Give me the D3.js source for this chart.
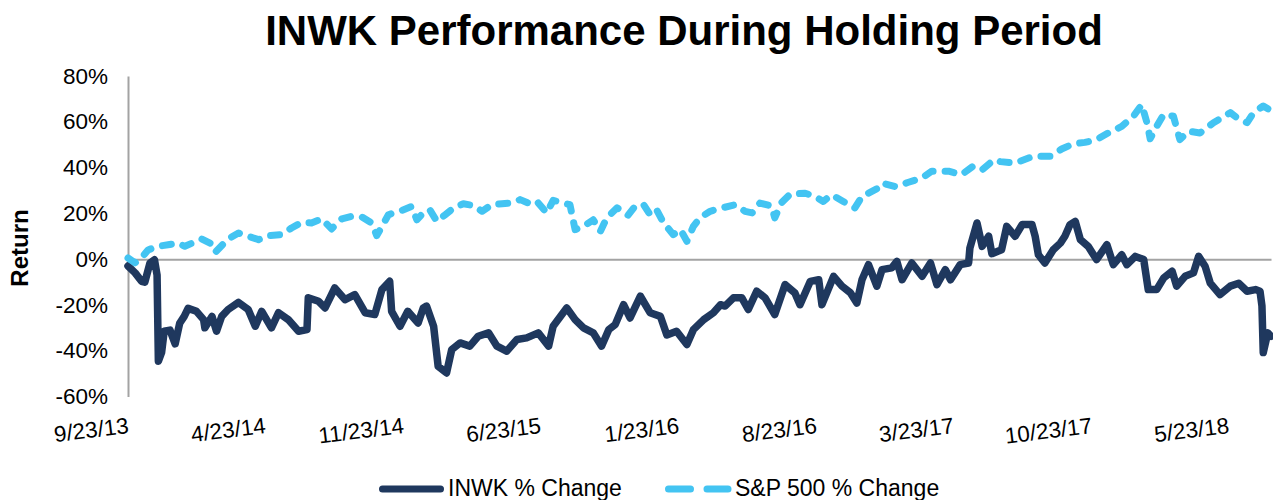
<!DOCTYPE html>
<html>
<head>
<meta charset="utf-8">
<script src="https://cdn.jsdelivr.net/npm/d3@7"></script>
<style>
  html, body { margin: 0; padding: 0; background: #ffffff; }
  svg { display: block; font-family: "Liberation Sans", Arial, sans-serif; }
</style>
</head>
<body>
<svg id="chart" width="1273" height="500"></svg>
<script>
// ---------- data ----------
const chartTitle = "INWK Performance During Holding Period";
const yAxisTitle = "Return";
const seriesNames = ["INWK % Change", "S&P 500 % Change"];

const yTickValues = [-60, -40, -20, 0, 20, 40, 60, 80];
const xTickLabels = ["2013-09-23", "2014-04-23", "2014-11-23", "2015-06-23", "2016-01-23",
                     "2016-08-23", "2017-03-23", "2017-10-23", "2018-05-23"];
const xDomain = ["2013-09-23", "2018-07-28"];

const inwkDates = [
  "2013-09-23","2013-10-04","2013-10-14","2013-10-19","2013-10-27","2013-11-03","2013-11-07","2013-11-09",
  "2013-11-14","2013-11-18","2013-11-27","2013-12-05","2013-12-12","2013-12-19","2013-12-25",
  "2014-01-07","2014-01-18","2014-01-20","2014-01-31","2014-02-07","2014-02-15","2014-02-25","2014-03-13",
  "2014-03-28","2014-04-08","2014-04-18","2014-05-03","2014-05-14","2014-05-29","2014-06-14","2014-06-27",
  "2014-06-29","2014-07-15","2014-07-25","2014-08-09","2014-08-25","2014-09-09","2014-09-25","2014-10-10",
  "2014-10-21","2014-11-02","2014-11-05","2014-11-18","2014-11-30","2014-12-16","2014-12-24","2014-12-29",
  "2015-01-09","2015-01-16","2015-01-29","2015-02-06","2015-02-19","2015-03-06","2015-03-19","2015-04-04",
  "2015-04-17","2015-05-02","2015-05-18","2015-06-02","2015-06-20","2015-07-06","2015-07-13","2015-08-03",
  "2015-08-16","2015-08-29","2015-09-13","2015-09-26","2015-10-07","2015-10-17","2015-10-30","2015-11-09",
  "2015-11-25","2015-12-10","2015-12-26",
  "2016-01-05","2016-01-20","2016-02-05","2016-02-15","2016-03-02","2016-03-17","2016-03-28","2016-04-04",
  "2016-04-17","2016-04-30","2016-05-10","2016-05-23","2016-06-05","2016-06-20","2016-07-06","2016-07-21",
  "2016-07-29","2016-08-14","2016-08-27","2016-09-01","2016-09-19","2016-10-02","2016-10-15","2016-10-25",
  "2016-11-02","2016-11-12","2016-11-25","2016-12-03","2016-12-18","2016-12-26",
  "2017-01-03","2017-01-18","2017-02-03","2017-02-16","2017-02-26","2017-03-11","2017-03-19","2017-04-03",
  "2017-04-16","2017-04-18","2017-04-29","2017-05-07","2017-05-17","2017-05-22","2017-06-06","2017-06-14",
  "2017-06-27","2017-07-08","2017-07-23","2017-07-28","2017-08-02","2017-08-12","2017-08-25","2017-09-05",
  "2017-09-12","2017-09-20","2017-09-28","2017-10-06","2017-10-18","2017-10-31","2017-11-16","2017-11-26",
  "2017-12-09","2017-12-17","2017-12-30",
  "2018-01-12","2018-01-19","2018-02-01","2018-02-12","2018-02-25","2018-03-04","2018-03-17","2018-03-30",
  "2018-04-07","2018-04-17","2018-04-25","2018-05-10","2018-05-26","2018-06-08","2018-06-21","2018-07-04",
  "2018-07-11","2018-07-14","2018-07-16","2018-07-23","2018-07-28"
];
const inwkValues = [
  -3, -6, -9.7, -10.1, -1.7, -0.3, -7, -44.6,
  -40.8, -31.5, -31, -37, -28, -25, -21.5,
  -22.8, -26.4, -30, -25, -31.5, -25, -22, -18.9,
  -22, -29.3, -22.8, -30, -23.4, -26.4, -31.5, -30.8,
  -16.9, -18.4, -21.3, -12.6, -17.7, -15.5, -23.4, -24.2,
  -13.3, -9.7, -22.8, -29.3, -22.8, -27.9, -21.3, -20.5,
  -29.3, -46.8, -49.7, -39.5, -36.6, -38, -33.7, -32.2,
  -38, -40.2, -35.1, -34.4, -32.2, -38, -29.3, -21.3,
  -26.4, -30, -32.2, -38, -30.8, -28.6, -19.9, -25.7,
  -16.2, -23.4, -25,
  -33.1, -31.5, -37.3, -30.8, -26.4, -23.4, -19.9, -20.5,
  -16.9, -16.9, -22, -14, -16.9, -24.2, -11.1, -14.7,
  -19.9, -9.7, -9.0, -19.9, -7.5, -11.8, -14.7, -19.2,
  -9.0, -2.4, -11.8, -4.6, -3.8, -1,
  -9.0, -1.7, -7.5, -1.7, -11.1, -4.6, -9.0, -2.4,
  -1.7, 4.9, 15.8, 5.6, 10, 2.4, 4.1, 14.3,
  10, 15.1, 15.1, 10, 1.9, -1.7, 4.1, 7,
  10, 15.1, 16.5, 8.5, 5.6, -0.2, 6.3, -2.4,
  1.9, -2.4, 1.2,
  -0.2, -13.3, -13.3, -8.2, -5.3, -11.8, -7.5, -6,
  1.2, -3.1, -10.5, -15.5, -11.8, -10.5, -14, -13.3,
  -14, -20.5, -40.8, -32.2, -33.7
];

const spxDates = [
  "2013-09-23","2013-10-04","2013-10-14","2013-10-24","2013-11-08","2013-11-24","2013-12-09","2013-12-20",
  "2014-01-15","2014-01-28","2014-02-05","2014-02-25","2014-03-13","2014-03-28","2014-04-13","2014-04-28",
  "2014-05-19","2014-06-03","2014-06-19","2014-07-04","2014-07-20","2014-08-04","2014-08-20","2014-09-04",
  "2014-09-20","2014-10-05","2014-10-13","2014-10-21","2014-10-31","2014-11-21","2014-12-06","2014-12-14",
  "2014-12-24",
  "2015-01-03","2015-01-14","2015-01-27","2015-02-09","2015-02-24","2015-03-12","2015-03-25","2015-04-09",
  "2015-04-25","2015-05-07","2015-05-23","2015-06-07","2015-06-18","2015-07-03","2015-07-13","2015-07-29",
  "2015-08-08","2015-08-16","2015-08-29","2015-09-13","2015-09-24","2015-10-04","2015-10-20","2015-11-06",
  "2015-11-17","2015-11-30","2015-12-10","2015-12-20","2015-12-31",
  "2016-01-15","2016-01-26","2016-02-05","2016-02-15","2016-02-25","2016-03-12","2016-03-25","2016-04-20",
  "2016-05-05","2016-05-16","2016-05-28","2016-06-15","2016-06-20","2016-06-30","2016-07-14","2016-08-06",
  "2016-08-21","2016-09-03","2016-09-16","2016-10-04","2016-10-22","2016-11-02","2016-11-27","2016-12-03",
  "2016-12-23",
  "2017-01-13","2017-02-03","2017-02-18","2017-03-16","2017-04-05","2017-04-23","2017-05-07","2017-05-25",
  "2017-06-04","2017-06-27","2017-07-25","2017-08-20","2017-09-07","2017-09-25","2017-10-13","2017-10-31",
  "2017-11-18","2017-12-09","2017-12-27",
  "2018-01-09","2018-01-17","2018-01-22","2018-02-01","2018-02-12","2018-02-27","2018-03-09","2018-03-22",
  "2018-04-09","2018-04-30","2018-05-26","2018-06-05","2018-06-21","2018-07-01","2018-07-16","2018-07-27"
];
const spxValues = [
  0.5, -1.6, 0.6, 4, 5.6, 6.3, 7, 5.6,
  8.8, 7, 3, 8.8, 11.4, 10, 8.5, 10.3,
  10.7, 13.6, 16.1, 15.8, 17.6, 13.2, 17.6, 18.7,
  18.4, 15.8, 10.3, 14.3, 19.4, 21.3, 23, 17.2,
  20.2,
  21.6, 16.5, 19.4, 22.4, 24.2, 23.4, 20.9, 23.8,
  24.2, 24.5, 26, 24.2, 25.2, 20.2, 25.7, 24.5,
  23.8, 12.9, 14.3, 17.2, 12.1, 18, 22.4, 19.2,
  23.2, 23.8, 19.4, 21.6, 15.8,
  10.7, 12.9, 7.8, 14.3, 18, 20.9, 22, 23.8,
  20.9, 20.2, 24.5, 23.2, 18, 24.5, 28.5, 28.8,
  27.4, 25.2, 28.1, 25.2, 22.4, 27.4, 31, 33.2,
  31.7,
  33.6, 35.5, 38.4, 38.4, 36.9, 40.6, 39, 43.4,
  42.6, 42, 44.9, 44.9, 48.1, 50.4, 51, 52.2,
  55.1, 58, 62.4,
  67.5, 59.6, 52.6, 58, 63.3, 62.4, 52.2, 55.9,
  55.1, 59.6, 64, 61.8, 59.6, 64, 66.9, 65
];

// ---------- drawing ----------
const parse = d3.timeParse("%Y-%m-%d");
const inwk = inwkDates.map((d, i) => ({ date: parse(d), value: inwkValues[i] }));
const spx = spxDates.map((d, i) => ({ date: parse(d), value: spxValues[i] }));

const colInwk = "#1f385e";
const colSpx = "#43c4f2";
const colAxis = "#a3a3a3";
const font = '"Liberation Sans", Arial, sans-serif';

const svg = d3.select("#chart");

const x = d3.scaleTime().domain(xDomain.map(parse)).range([128, 1271]);
const y = d3.scaleLinear().domain([-60, 80]).range([396.5, 76]);

// title
svg.append("text")
  .attr("x", 684).attr("y", 45)
  .attr("text-anchor", "middle")
  .style("font-size", "42px").style("font-weight", "bold").style("fill", "#000")
  .text(chartTitle);

// y axis title
svg.append("text")
  .attr("transform", "translate(28,248) rotate(-90)")
  .attr("text-anchor", "middle")
  .style("font-size", "24px").style("font-weight", "bold").style("fill", "#000")
  .text(yAxisTitle);

// y axis
const yAxis = svg.append("g")
  .attr("transform", "translate(128,0)")
  .call(d3.axisLeft(y).tickValues(yTickValues).tickFormat(d => d + "%")
        .tickSize(0).tickSizeOuter(0).tickPadding(20));
yAxis.select(".domain").attr("stroke", colAxis).attr("stroke-width", 2);
yAxis.selectAll("text").style("font-size", "22.5px").style("font-family", font).style("fill", "#000");

// x axis at zero line
const xAxis = svg.append("g")
  .attr("transform", `translate(0,${y(0)})`)
  .call(d3.axisBottom(x).tickValues(xTickLabels.map(parse))
        .tickFormat(d3.timeFormat("%-m/%-d/%y")).tickSize(0).tickSizeOuter(0));
xAxis.select(".domain").attr("stroke", colAxis).attr("stroke-width", 2);
xAxis.selectAll("text")
  .attr("x", 0).attr("y", 0).attr("dy", 0)
  .attr("text-anchor", "end")
  .attr("transform", `translate(1,${433 - y(0)}) rotate(-7)`)
  .style("font-size", "22.5px").style("font-family", font).style("fill", "#000");

// lines
const line = d3.line().x(d => x(d.date)).y(d => y(d.value));

svg.append("path")
  .datum(inwk)
  .attr("d", line)
  .attr("fill", "none")
  .attr("stroke", colInwk)
  .attr("stroke-width", 7.5)
  .attr("stroke-linejoin", "round")
  .attr("stroke-linecap", "round");

svg.append("path")
  .datum(spx)
  .attr("d", line)
  .attr("fill", "none")
  .attr("stroke", colSpx)
  .attr("stroke-width", 7)
  .attr("stroke-linejoin", "round")
  .attr("stroke-linecap", "round")
  .attr("stroke-dasharray", "9,12");

// legend
const legend = svg.append("g");
legend.append("line")
  .attr("x1", 382.5).attr("x2", 440.5).attr("y1", 489).attr("y2", 489)
  .attr("stroke", colInwk).attr("stroke-width", 7).attr("stroke-linecap", "round");
legend.append("text")
  .attr("x", 448).attr("y", 496)
  .style("font-size", "23px").style("fill", "#000")
  .text(seriesNames[0]);
legend.append("line")
  .attr("x1", 668.5).attr("x2", 728).attr("y1", 489).attr("y2", 489)
  .attr("stroke", colSpx).attr("stroke-width", 7).attr("stroke-linecap", "round")
  .attr("stroke-dasharray", "22,16.5");
legend.append("text")
  .attr("x", 735).attr("y", 496)
  .style("font-size", "23px").style("fill", "#000")
  .text(seriesNames[1]);
</script>
</body>
</html>
